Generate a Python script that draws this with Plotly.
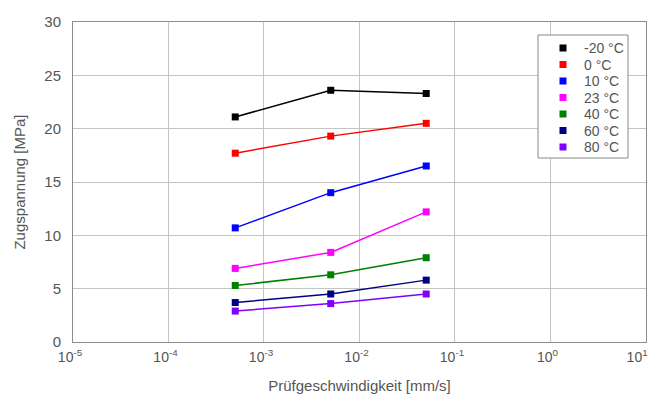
import plotly.graph_objects as go

speeds = [5e-4, 5e-3, 5e-2]
series_names = ["-20 °C", "0 °C", "10 °C", "23 °C", "40 °C", "60 °C", "80 °C"]
v_m20 = [21.1, 23.6, 23.3]
v_0 = [17.7, 19.3, 20.5]
v_10 = [10.7, 14.0, 16.5]
v_23 = [6.9, 8.4, 12.2]
v_40 = [5.3, 6.3, 7.9]
v_60 = [3.7, 4.5, 5.8]
v_80 = [2.9, 3.6, 4.5]
series_values = [v_m20, v_0, v_10, v_23, v_40, v_60, v_80]
colors = ["#000000", "#ff0000", "#0000ff", "#ff00ff", "#008000", "#000080", "#7f00ff"]

x_tickvals = [1e-5, 1e-4, 1e-3, 1e-2, 1e-1, 1e0, 1e1]
x_ticktext = ["10<sup>-5</sup>", "10<sup>-4</sup>", "10<sup>-3</sup>", "10<sup>-2</sup>",
              "10<sup>-1</sup>", "10<sup>0</sup>", "10<sup>1</sup>\u00a0\u00a0\u00a0"]
y_tickvals = [0, 5, 10, 15, 20, 25, 30]

# page body has an 8px default margin, so the figure is 8px smaller than the window
OFF = 8
W, H = 656 - OFF, 403 - OFF
PL, PR, PT, PB = 73, 646, 22, 342          # plot area in window pixels
ML, MR, MT, MB = PL - OFF, 656 - PR, PT - OFF, 403 - PB
PW, PH = PR - PL, PB - PT

fig = go.Figure()
for name, vals, c in zip(series_names, series_values, colors):
    fig.add_trace(go.Scatter(x=speeds, y=vals, mode="lines+markers", name=name,
                             line=dict(color=c, width=1.5),
                             marker=dict(symbol="square", size=7, color=c),
                             showlegend=False))

def px_x(p):
    return (p - PL) / PW

def px_y(p):
    return (PB - p) / PH

# legend box drawn as shapes/annotations to match the compact row spacing
shapes = [dict(type="rect", xref="paper", yref="paper", layer="above",
               x0=px_x(538), x1=px_x(628), y0=px_y(158), y1=px_y(35),
               fillcolor="white", line=dict(color="#888888", width=1))]
annotations = []
for i, (name, c) in enumerate(zip(series_names, colors)):
    cy = 48 + 16.5 * i
    shapes.append(dict(type="rect", xref="paper", yref="paper", layer="above",
                       x0=px_x(559.5), x1=px_x(566.5), y0=px_y(cy + 3.5), y1=px_y(cy - 3.5),
                       fillcolor=c, line=dict(width=0)))
    annotations.append(dict(x=px_x(582), y=px_y(cy), xref="paper", yref="paper",
                            text=name, showarrow=False, xanchor="left", yanchor="middle",
                            font=dict(size=14, color="#555555")))

font_family = "Liberation Sans, Arial, sans-serif"
fig.update_layout(
    width=W, height=H,
    margin=dict(l=ML, r=MR, t=MT, b=MB),
    paper_bgcolor="white", plot_bgcolor="white",
    font=dict(family=font_family, size=14, color="#555555"),
    showlegend=False,
    shapes=shapes, annotations=annotations,
    xaxis=dict(type="log", range=[-5, 1.0005], tickvals=x_tickvals, ticktext=x_ticktext,
               showgrid=True, gridcolor="#c4c4c4", gridwidth=1,
               showline=True, linecolor="#8c8c8c", mirror=True,
               ticks="outside", ticklen=2, tickcolor="rgba(0,0,0,0)", zeroline=False,
               automargin=False, tickfont=dict(size=14), ticklabeloverflow="allow",
               ticklabelshift=-3,
               title=dict(text="Prüfgeschwindigkeit [mm/s]", font=dict(size=15, color="#555555"), standoff=16)),
    yaxis=dict(range=[0, 30], tickvals=y_tickvals,
               showgrid=True, gridcolor="#c4c4c4", gridwidth=1,
               showline=True, linecolor="#8c8c8c", mirror=True,
               ticks="outside", ticklen=8, tickcolor="rgba(0,0,0,0)", zeroline=False,
               automargin=False, tickfont=dict(size=15), ticklabeloverflow="allow",
               title=dict(text="Zugspannung [MPa]", font=dict(size=15, color="#555555"), standoff=15)),
)
fig.write_html("out.html")
